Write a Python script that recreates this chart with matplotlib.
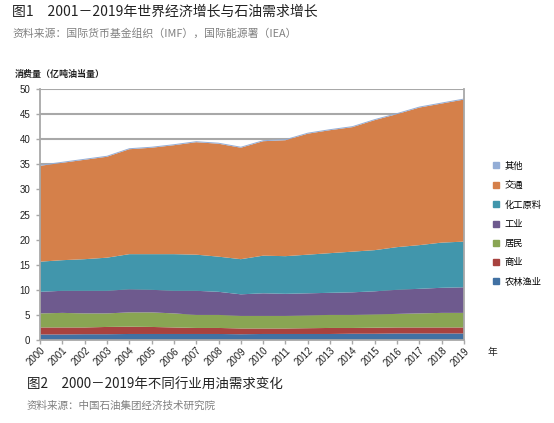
import matplotlib
matplotlib.use("Agg")
import matplotlib.pyplot as plt
from matplotlib.lines import Line2D

plt.rcParams['font.family'] = ['Noto Sans CJK SC', 'DejaVu Sans']

years = list(range(2000, 2020))

# layer values, 100 million tonnes oil equivalent
agriculture = [1.1, 1.1, 1.15, 1.15, 1.2, 1.2, 1.2, 1.2, 1.2, 1.15,
               1.2, 1.2, 1.2, 1.2, 1.25, 1.25, 1.3, 1.3, 1.3, 1.3]
commercial = [1.4, 1.4, 1.35, 1.45, 1.45, 1.4, 1.3, 1.2, 1.2, 1.15,
              1.1, 1.1, 1.15, 1.2, 1.15, 1.2, 1.2, 1.2, 1.2, 1.2]
residential = [2.8, 2.9, 2.8, 2.7, 2.85, 2.9, 2.8, 2.6, 2.6, 2.5,
               2.5, 2.5, 2.55, 2.6, 2.6, 2.65, 2.7, 2.8, 2.9, 2.9]
industry = [4.3, 4.4, 4.5, 4.5, 4.6, 4.5, 4.5, 4.8, 4.6, 4.3,
            4.5, 4.4, 4.4, 4.4, 4.5, 4.6, 4.8, 4.9, 5.0, 5.1]
chemical = [6.0, 6.1, 6.3, 6.6, 7.0, 7.1, 7.3, 7.2, 7.0, 7.0,
            7.5, 7.5, 7.7, 7.9, 8.1, 8.2, 8.5, 8.7, 9.0, 9.1]
transport = [19.1, 19.4, 19.8, 20.1, 20.9, 21.2, 21.7, 22.4, 22.5, 22.2,
             22.8, 23.1, 24.1, 24.5, 24.8, 25.9, 26.5, 27.4, 27.7, 28.3]
other = [0.2] * 20

labels = ['农林渔业', '商业', '居民', '工业', '化工原料', '交通', '其他']
colors = ['#4171A3', '#A8423F', '#89A553', '#6E5A8E', '#4196AC', '#D5804A', '#93ADD6']

fig = plt.figure(figsize=(5.54, 4.23), dpi=100)
ax = fig.add_axes([40 / 554, 1 - 340 / 423, 424 / 554, 251 / 423])

ax.stackplot(years, agriculture, commercial, residential, industry, chemical,
             transport, other, colors=colors, linewidth=0, zorder=2)

ax.set_xlim(2000, 2019)
ax.set_ylim(0, 50)
ax.set_yticks(range(0, 51, 5))
ax.set_xticks(years)
ax.yaxis.grid(True, color='#A8A8A8', linewidth=1.5, zorder=0)
ax.set_axisbelow(True)

for s in ['left', 'bottom', 'right']:
    ax.spines[s].set_color('#A8A8A8')
    ax.spines[s].set_linewidth(1.3)
ax.spines['top'].set_visible(False)
ax.tick_params(axis='both', colors='#A8A8A8', length=3, width=1)
ax.tick_params(axis='y', labelcolor='#222222', labelsize=7, pad=4)
ax.tick_params(axis='x', labelcolor='#222222', labelsize=7, pad=1)
for lab in ax.get_yticklabels() + ax.get_xticklabels():
    lab.set_family(['Liberation Sans', 'DejaVu Sans'])
plt.setp(ax.get_xticklabels(), rotation=45, ha='right', rotation_mode='anchor')

fig.text(488 / 554, 1 - 352 / 423, '年', fontsize=7, color='#222222', va='center')

# legend
handles = [Line2D([], [], marker='s', linestyle='none', markersize=4.5,
                  markerfacecolor=c, markeredgecolor=c) for c in colors]
leg = fig.legend(handles[::-1], labels[::-1], loc='upper left',
                 bbox_to_anchor=(488 / 554, 1 - 157 / 423), frameon=False,
                 fontsize=6.7, handlelength=0.8, handletextpad=0.5,
                 labelspacing=1.1, borderpad=0)

# titles and notes
fig.text(12 / 554, 1 - 12 / 423, '图1　2001－2019年世界经济增长与石油需求增长',
         fontsize=10, color='#222222', va='center')
fig.text(12 / 554, 1 - 33 / 423, '资料来源：国际货币基金组织（IMF），国际能源署（IEA）',
         fontsize=7.8, color='#808080', va='center')
fig.text(15 / 554, 1 - 75 / 423, '消费量（亿吨油当量）', fontsize=6.5,
         color='#222222', va='center', fontweight='bold')
fig.text(27 / 554, 1 - 385 / 423, '图2　2000－2019年不同行业用油需求变化',
         fontsize=9.7, color='#222222', va='center')
fig.text(27 / 554, 1 - 406 / 423, '资料来源：中国石油集团经济技术研究院',
         fontsize=7.6, color='#808080', va='center')

fig.savefig('out.png', dpi=100)
